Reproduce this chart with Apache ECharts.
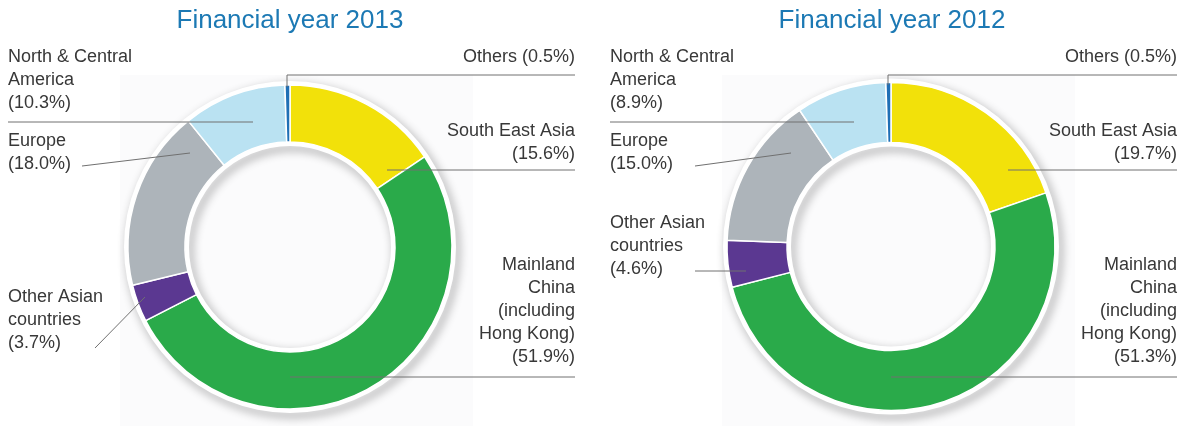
<!DOCTYPE html>
<html>
<head>
<meta charset="utf-8">
<script src="https://cdn.jsdelivr.net/npm/echarts@6/dist/echarts.min.js"></script>
<style>
  html, body { margin: 0; padding: 0; background: #fff; }
  #main { width: 1185px; height: 426px; }
</style>
</head>
<body>
<div id="main"></div>
<script>
  // regions, clockwise from 12 o'clock
  const regions = ['South East Asia', 'Mainland\nChina\n(including\nHong Kong)', 'Other Asian\ncountries', 'Europe', 'North & Central\nAmerica', 'Others']
  const share2013 = [15.6, 51.9, 3.7, 18.0, 10.3, 0.5]
  const share2012 = [19.7, 51.3, 4.6, 15.0, 8.9, 0.5]
  const years = ['Financial year 2013', 'Financial year 2012']
  const colors = ['#f2e10a', '#2aaa4a', '#5b3891', '#adb4ba', '#bae2f2', '#1f6fb5']

  const center2013 = [290, 247]
  const center2012 = [891, 246.5]

  // where each label sits: x, top y, align, leader line points
  const labels2013 = [
    [575, 120, 'right', [[387, 170], [575, 170]]],
    [575, 254, 'right', [[290, 377], [575, 377]]],
    [8, 286, 'left', [[145, 297], [95, 348]]],
    [8, 130, 'left', [[190, 153], [82, 166]]],
    [8, 46, 'left', [[253, 122], [8, 122]]],
    [575, 46, 'right', [[287, 87], [287, 75], [575, 75]]]
  ]
  const labels2012 = [
    [1177, 120, 'right', [[1008, 170], [1177, 170]]],
    [1177, 254, 'right', [[891, 377], [1177, 377]]],
    [610, 212, 'left', [[746, 271], [695, 271]]],
    [610, 130, 'left', [[791, 153], [695, 166]]],
    [610, 46, 'left', [[854, 122], [610, 122]]],
    [1177, 46, 'right', [[888, 85], [888, 75], [1177, 75]]]
  ]

  const chart = echarts.init(document.getElementById('main'))

  // white rim with a soft shadow (decoration only)
  function rim (center, radius) {
    return {
      type: 'pie',
      silent: true,
      center: center,
      radius: radius,
      z: 1,
      label: {show: false},
      labelLine: {show: false},
      emphasis: {disabled: true},
      itemStyle: {
        color: '#fff',
        shadowBlur: 10,
        shadowColor: 'rgba(0,0,0,0.45)',
        shadowOffsetX: 3,
        shadowOffsetY: 4
      },
      data: [{value: 1}]
    }
  }

  function ringData (values, transparent) {
    return regions.map((r, i) => {
      return {name: r, value: values[i], itemStyle: {color: transparent ? 'rgba(0,0,0,0)' : colors[i]}}
    })
  }

  function donut (name, values, center, radius) {
    return {
      name: name,
      type: 'pie',
      center: center,
      radius: radius,
      z: 2,
      startAngle: 90,
      silent: true,
      emphasis: {disabled: true},
      itemStyle: {borderColor: '#fff', borderWidth: 1.5},
      label: {show: false},
      labelLine: {show: false},
      data: ringData(values, false)
    }
  }

  // same slices, invisible, only to carry the labels above the ring
  function labelLayer (name, values, center, radius, pos) {
    return {
      name: name,
      type: 'pie',
      center: center,
      radius: radius,
      z: 3,
      startAngle: 90,
      silent: true,
      avoidLabelOverlap: false,
      emphasis: {disabled: true},
      itemStyle: {borderWidth: 0},
      label: {
        show: true,
        position: 'outside',
        color: '#383838',
        fontFamily: 'Liberation Sans',
        fontSize: 18,
        lineHeight: 23,
        formatter: (p) => {
          let sep = p.name === 'Others' ? ' ' : '\n'
          return p.name + sep + '(' + p.value.toFixed(1) + '%)'
        }
      },
      labelLine: {
        show: true,
        lineStyle: {color: '#707070', width: 1}
      },
      labelLayout: (params) => {
        let p = pos[params.dataIndex]
        return {
          x: p[0],
          y: p[1],
          align: p[2],
          verticalAlign: 'top',
          labelLinePoints: p[3]
        }
      },
      data: ringData(values, true)
    }
  }

  let titleStyle = {color: '#1c79b4', fontSize: 26, fontWeight: 'normal', fontFamily: 'Liberation Sans'}

  let option = {
    backgroundColor: '#fff',
    animation: false,
    graphic: [
      {type: 'rect', silent: true, z: -10, shape: {x: 120, y: 75, width: 353, height: 351}, style: {fill: '#fbfbfc'}},
      {type: 'rect', silent: true, z: -10, shape: {x: 722, y: 75, width: 353, height: 351}, style: {fill: '#fbfbfc'}}
    ],
    title: [
      {text: years[0], left: center2013[0], top: 8, padding: 0, textAlign: 'center', textStyle: titleStyle},
      {text: years[1], left: center2012[0] + 1, top: 8, padding: 0, textAlign: 'center', textStyle: titleStyle}
    ],
    series: [
      rim(center2013, [162, 166]),
      rim(center2013, [101, 105]),
      rim(center2012, [164, 168]),
      rim(center2012, [100, 104]),
      donut('2013', share2013, center2013, [105, 162]),
      donut('2012', share2012, center2012, [104, 164]),
      labelLayer('2013 labels', share2013, center2013, [105, 162], labels2013),
      labelLayer('2012 labels', share2012, center2012, [104, 164], labels2012)
    ]
  }
  chart.setOption(option)
</script>
</body>
</html>
